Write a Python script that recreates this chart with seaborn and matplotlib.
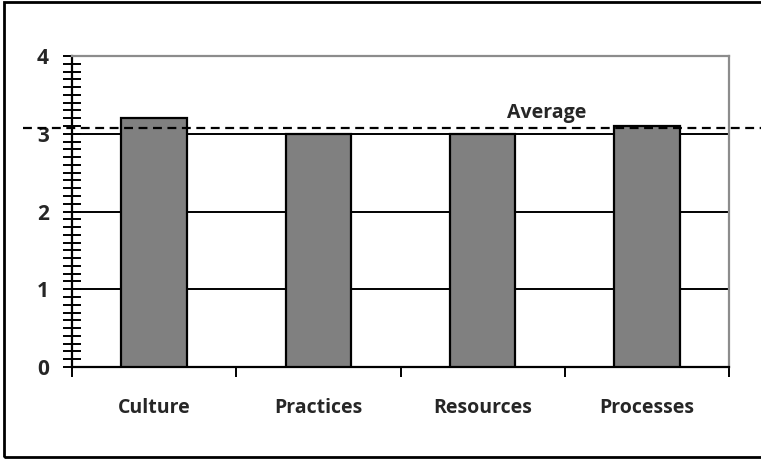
import matplotlib
matplotlib.use("Agg")
import matplotlib.pyplot as plt
from matplotlib.ticker import MultipleLocator, FixedLocator, NullFormatter
import seaborn as sns
import pandas as pd

categories = ["Culture", "Practices", "Resources", "Processes"]
scores = [3.2, 3.0, 3.0, 3.1]
average_label = "Average"
y_ticks = [0, 1, 2, 3, 4]

sns.set_theme(style="white")
plt.rcParams["font.family"] = ["Open Sans", "DejaVu Sans"]

df = pd.DataFrame({"category": categories, "score": scores})
average = sum(scores) / len(scores)

fig = plt.figure(figsize=(7.61, 4.59), dpi=100)
ax = fig.add_axes([72 / 761, 92 / 459, 657 / 761, 311 / 459])

sns.barplot(data=df, x="category", y="score", color="#808080", width=0.4,
            edgecolor="black", linewidth=1.6, saturation=1, ax=ax, zorder=3)

ax.set_xlim(-0.5, len(categories) - 0.5)
ax.set_ylim(0, 4)
ax.set_xlabel("")
ax.set_ylabel("")

# horizontal gridlines at each whole score
for v in y_ticks[1:-1]:
    ax.axhline(v, color="black", linewidth=1.4, zorder=1)

# spines: black left/bottom, grey top/right
for side in ("left", "bottom"):
    ax.spines[side].set_color("black")
    ax.spines[side].set_linewidth(1.6)
for side in ("top", "right"):
    ax.spines[side].set_color("#8c8c8c")
    ax.spines[side].set_linewidth(1.6)

ax.yaxis.set_major_locator(FixedLocator(y_ticks))
ax.yaxis.set_minor_locator(MultipleLocator(0.1))
ax.yaxis.set_minor_formatter(NullFormatter())
ax.tick_params(axis="y", which="both", direction="inout", length=13, width=1.4,
               color="black", left=True, labelsize=15, pad=10)
ax.tick_params(axis="x", which="major", length=0, labelsize=14, pad=22)
for lbl in ax.get_yticklabels() + ax.get_xticklabels():
    lbl.set_fontweight("bold")

# x ticks at category boundaries
ax.xaxis.set_minor_locator(FixedLocator([i - 0.5 for i in range(len(categories) + 1)]))
ax.tick_params(axis="x", which="minor", direction="out", length=7, width=1.4,
               color="black", bottom=True)

# dashed average line running past both sides of the plot area
ax.plot([-0.8, 4.65], [average, average], color="black", linestyle=(0, (4, 2.5)),
        linewidth=1.6, clip_on=False, zorder=4)
ax.text(2.39, average + 0.06, average_label, ha="center", va="bottom",
        fontsize=14, fontweight="bold")

# outer frame
fig.patches.append(plt.Rectangle((4 / 761, 2 / 459), 770 / 761, 455 / 459,
                                 transform=fig.transFigure, fill=False,
                                 edgecolor="black", linewidth=2))

fig.savefig("out.png", dpi=100)
